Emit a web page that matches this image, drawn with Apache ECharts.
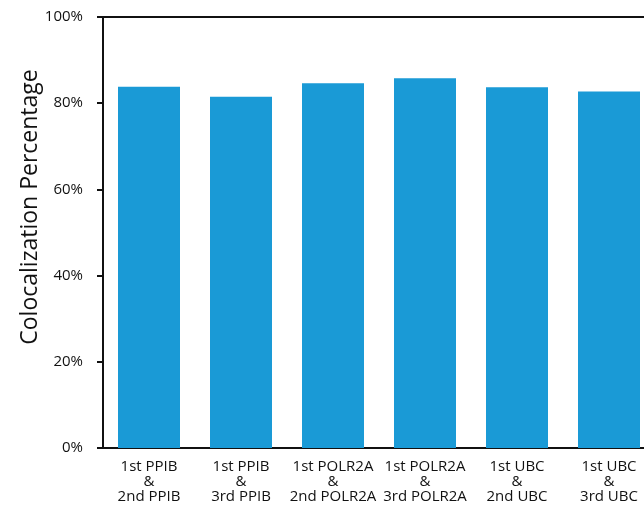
<!DOCTYPE html>
<html>
<head>
<meta charset="utf-8">
<script src="https://cdn.jsdelivr.net/npm/echarts@6/dist/echarts.min.js"></script>
<style>
  html, body { margin: 0; padding: 0; background: #fff; overflow: hidden; }
  /* the plot runs past the right edge of the picture, so the canvas is wider than the window */
  #chart { width: 670px; height: 506px; }
</style>
</head>
<body>
<div id="chart"></div>
<script>
// categories and values
var categories = [
  '1st PPIB\n&\n2nd PPIB',
  '1st PPIB\n&\n3rd PPIB',
  '1st POLR2A\n&\n2nd POLR2A',
  '1st POLR2A\n&\n3rd POLR2A',
  '1st UBC\n&\n2nd UBC',
  '1st UBC\n&\n3rd UBC'
];
var colocalization = [83.8, 81.5, 84.6, 85.8, 83.7, 82.7];
var yTicks = [0, 20, 40, 60, 80, 100];
var yTitle = 'Colocalization Percentage';

var font = 'Open Sans';
var chart = echarts.init(document.getElementById('chart'));
var option = {
  animation: false,
  backgroundColor: '#fff',
  grid: {
    left: 103,
    top: 17,
    width: 552,
    height: 431
  },
  graphic: [{
    type: 'text',
    x: 30,
    y: 207,
    rotation: Math.PI / 2,
    style: {
      text: yTitle,
      fill: '#111',
      font: '23px "Open Sans"',
      textAlign: 'center',
      textVerticalAlign: 'middle'
    }
  }],
  xAxis: [{
    type: 'category',
    data: categories,
    axisLine: { show: true, lineStyle: { color: '#111', width: 2 } },
    axisTick: { show: false },
    axisLabel: {
      color: '#111',
      fontFamily: font,
      fontSize: 15,
      lineHeight: 15,
      margin: 11,
      interval: 0
    }
  }, {
    type: 'category',
    position: 'top',
    data: categories,
    axisLine: { show: true, lineStyle: { color: '#111', width: 2 } },
    axisTick: { show: false },
    axisLabel: { show: false }
  }],
  yAxis: {
    type: 'value',
    min: 0,
    max: 100,
    interval: 20,
    axisLine: { show: true, lineStyle: { color: '#111', width: 2 } },
    axisTick: { show: true, length: 6, inside: false, lineStyle: { color: '#111', width: 2 } },
    splitLine: { show: false },
    axisLabel: {
      color: '#111',
      fontFamily: font,
      fontSize: 15,
      margin: 20,
      formatter: function (v) { return yTicks.indexOf(v) >= 0 ? v + '%' : ''; }
    }
  },
  series: [{
    type: 'bar',
    data: colocalization,
    barWidth: 62,
    itemStyle: { color: '#1A9AD6' }
  }]
};
chart.setOption(option);
</script>
</body>
</html>
